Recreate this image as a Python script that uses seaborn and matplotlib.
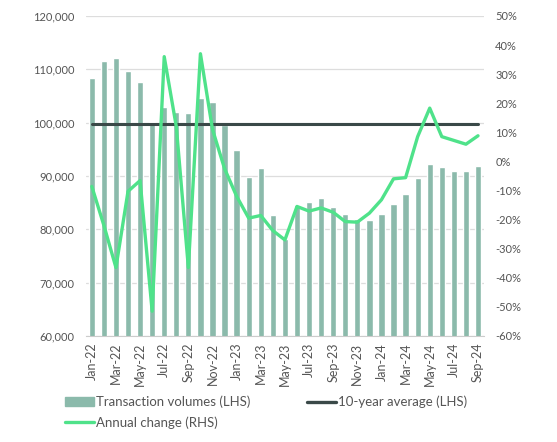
import matplotlib
matplotlib.use("Agg")
import matplotlib.pyplot as plt
from matplotlib.ticker import FuncFormatter, FixedLocator
from matplotlib.patches import Patch
from matplotlib.lines import Line2D
import seaborn as sns
import pandas as pd
import numpy as np

# data
months = ["Jan-22", "Feb-22", "Mar-22", "Apr-22", "May-22", "Jun-22", "Jul-22", "Aug-22",
          "Sep-22", "Oct-22", "Nov-22", "Dec-22", "Jan-23", "Feb-23", "Mar-23", "Apr-23",
          "May-23", "Jun-23", "Jul-23", "Aug-23", "Sep-23", "Oct-23", "Nov-23", "Dec-23",
          "Jan-24", "Feb-24", "Mar-24", "Apr-24", "May-24", "Jun-24", "Jul-24", "Aug-24",
          "Sep-24"]
volumes = [108400, 111550, 112200, 109600, 107600, 100050, 102900, 102050,
           101850, 104600, 103900, 99500, 94950, 89800, 91400, 82700,
           78100, 84500, 85100, 85900, 84250, 82900, 81900, 81750,
           82950, 84700, 86700, 89600, 92200, 91600, 91000, 91000,
           91800]
annual_change = [-8.6, -22.0, -36.5, -10.3, -6.6, -51.5, 36.0, 12.0,
                 -36.5, 37.0, 11.0, -2.5, -12.0, -19.5, -18.6, -23.8,
                 -27.0, -15.5, -17.1, -16.0, -17.5, -20.7, -20.9, -17.8,
                 -13.2, -6.0, -5.6, 8.5, 18.3, 8.5, 7.2, 5.9,
                 8.8]
ten_year_avg = 99700

bar_color = "#8bbaab"
line_color = "#4fe28a"
avg_color = "#3a4948"
text_color = "#555555"

sns.set_style("white")
plt.rcParams["font.family"] = ["Lato", "DejaVu Sans"]

df = pd.DataFrame({"month": months, "volume": volumes, "change": annual_change,
                   "avg": [ten_year_avg] * len(months)})

fig = plt.figure(figsize=(5.57, 4.42), dpi=100)
ax = fig.add_axes([0.154, 0.240, 0.715, 0.724])

sns.barplot(data=df, x="month", y="volume", color=bar_color, saturation=1,
            width=0.52, ax=ax)
sns.lineplot(data=df, x="month", y="avg", color=avg_color, linewidth=2.2,
             ax=ax, sort=False)

ax.set_ylim(60000, 120000)
ax.set_yticks(np.arange(60000, 120001, 10000))
ax.yaxis.set_major_formatter(FuncFormatter(lambda v, p: f"{int(v):,}"))
ax.yaxis.grid(True, color="#dddddd", linewidth=0.9)
ax.set_axisbelow(True)
ax.set_xlim(-0.5, len(months) - 0.5)
ax.set_xlabel("")
ax.set_ylabel("")

# labels on every other month, tick marks between them
ax.set_xticks(range(0, len(months), 2))
ax.set_xticklabels(months[::2], rotation=90)
ax.xaxis.set_minor_locator(FixedLocator(np.arange(-0.5, len(months), 2)))
ax.tick_params(axis="x", which="major", length=0, pad=5, labelsize=9,
               labelcolor=text_color)
ax.tick_params(axis="x", which="minor", length=4, color="#cccccc", width=0.8)
ax.tick_params(axis="y", length=0, pad=8, labelsize=8, labelcolor=text_color)

for side in ["top", "right", "left"]:
    ax.spines[side].set_visible(False)
ax.spines["bottom"].set_color("#cccccc")
ax.spines["bottom"].set_linewidth(0.8)

ax2 = ax.twinx()
sns.lineplot(data=df, x="month", y="change", color=line_color, linewidth=2.4,
             ax=ax2, sort=False)
ax2.set_ylim(-60, 50)
ax2.set_yticks(np.arange(-60, 51, 10))
ax2.yaxis.set_major_formatter(FuncFormatter(lambda v, p: f"{int(v)}%"))
ax2.tick_params(axis="y", length=0, pad=8, labelsize=8, labelcolor=text_color)
ax2.set_ylabel("")
for side in ["top", "right", "left", "bottom"]:
    ax2.spines[side].set_visible(False)

handles = [Patch(color=bar_color),
           Line2D([0], [0], color=line_color, linewidth=2.4),
           Line2D([0], [0], color=avg_color, linewidth=2.4)]
labels = ["Transaction volumes (LHS)", "Annual change (RHS)", "10-year average (LHS)"]
fig.legend(handles, labels, ncol=2, loc="upper left",
           bbox_to_anchor=(0.117, 0.105), frameon=False, fontsize=9.5,
           labelcolor=text_color, handlelength=2.2, handletextpad=0.15,
           columnspacing=4.3, labelspacing=0.6, borderaxespad=0, borderpad=0)

plt.savefig("out.png", dpi=100)
